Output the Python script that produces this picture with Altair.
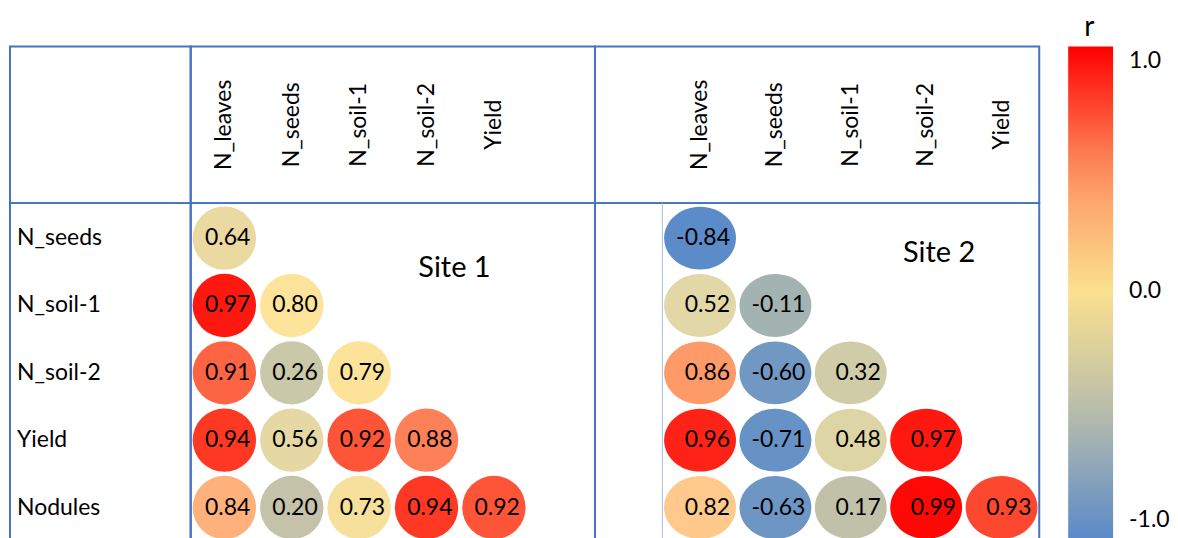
import altair as alt
import pandas as pd

# ---------------- data ----------------
cols = ["N_leaves", "N_seeds", "N_soil-1", "N_soil-2", "Yield"]
rows = ["N_seeds", "N_soil-1", "N_soil-2", "Yield", "Nodules"]

site1 = [
    [0.64],
    [0.97, 0.80],
    [0.91, 0.26, 0.79],
    [0.94, 0.56, 0.92, 0.88],
    [0.84, 0.20, 0.73, 0.94, 0.92],
]
site2 = [
    [-0.84],
    [0.52, -0.11],
    [0.86, -0.60, 0.32],
    [0.96, -0.71, 0.48, 0.97],
    [0.82, -0.63, 0.17, 0.99, 0.93],
]
site_names = ["Site 1", "Site 2"]
legend_values = [-1.0, 0.0, 1.0]


def long(vals):
    recs = []
    for i, rname in enumerate(rows):
        for j, v in enumerate(vals[i]):
            recs.append({"row": rname, "col": cols[j], "r": v, "label": f"{v:.2f}"})
    return pd.DataFrame(recs)


# ---------------- styles ----------------
FONT = "Lato"
BORDER = "#4472C4"
W0, W1, W2 = 181, 405, 445
HH, HB = 157, 340

fill_scale = alt.Scale(
    domain=[-1, -0.84, -0.6, -0.11, 0.17, 0.32, 0.52, 0.64, 0.73, 0.80,
            0.82, 0.84, 0.86, 0.88, 0.91, 0.94, 0.97, 1.0],
    range=["#5083c9", "#5b8bc8", "#7198c3", "#a3b3b1", "#c1c1a9", "#cfcca7",
           "#e2d7a6", "#ead9a0", "#f6e09c", "#fee39a", "#fec98a", "#feb17b",
           "#fe9a68", "#fd8058", "#fd6444", "#ff3824", "#ff1810", "#ff0000"],
    interpolate="rgb",
)
# gradient bar runs a little past -1 and +1, as in the source picture
legend_scale = alt.Scale(
    domain=[-1.08, -0.5, 0, 0.5, 1.064],
    range=["#5a8ac9", "#bdbfa9", "#fbe08f", "#fd9562", "#ff0000"],
    interpolate="rgb",
)

xs1 = alt.Scale(type="band", domain=cols, paddingInner=0, paddingOuter=0.5, align=0)
xs2 = alt.Scale(type="band", domain=cols, paddingInner=0, paddingOuter=0.447, align=1)
ys = alt.Scale(type="band", domain=rows, paddingInner=0, paddingOuter=0.02, align=0.5)

ELLIPSE = ("M 1.143 0 C 1.143 0.5523 0.6313 1 0 1 C -0.6313 1 -1.143 0.5523 -1.143 0 "
           "C -1.143 -0.5523 -0.6313 -1 0 -1 C 0.6313 -1 1.143 -0.5523 1.143 0 Z")

# ---------------- header row ----------------
header0 = alt.Chart(pd.DataFrame({"t": ["-"]})).mark_text(opacity=0).encode(
    x=alt.value(5), y=alt.value(5), text="t:N"
).properties(width=W0, height=HH)


def header(xs, w):
    return alt.Chart(pd.DataFrame({"col": cols})).mark_text(
        angle=270, font=FONT, fontSize=23, color="black",
        baseline="middle", align="center"
    ).encode(
        x=alt.X("col:N", scale=xs, axis=None),
        y=alt.value(HH / 2),
        text="col:N",
    ).properties(width=w, height=HH)


# ---------------- body row ----------------
body0 = alt.Chart(pd.DataFrame({"row": rows})).mark_text(
    align="left", baseline="middle", font=FONT, fontSize=23, color="black"
).encode(
    x=alt.value(7),
    y=alt.Y("row:N", scale=ys, axis=None),
    text="row:N",
).properties(width=W0, height=HB)


def body(vals, xs, w, shape, size, dx, site, sdx, sdy, with_legend=False):
    df = long(vals)
    base = alt.Chart(df).encode(
        x=alt.X("col:N", scale=xs, axis=None),
        y=alt.Y("row:N", scale=ys, axis=None),
    )
    pts = base.mark_point(
        shape=shape, size=size, filled=True, opacity=1, strokeWidth=0
    ).encode(fill=alt.Fill("r:Q", scale=fill_scale, legend=None))
    txt = base.mark_text(
        align="right", baseline="middle", dx=dx, font=FONT, fontSize=23, color="black"
    ).encode(text="label:N")
    sdf = pd.DataFrame({"col": ["N_soil-2"], "row": ["N_seeds"], "site": [site]})
    stxt = alt.Chart(sdf).mark_text(
        align="center", baseline="middle", dx=sdx, dy=sdy,
        font=FONT, fontSize=29, color="black"
    ).encode(
        x=alt.X("col:N", scale=xs, axis=None),
        y=alt.Y("row:N", scale=ys, axis=None),
        text="site:N",
    )
    layers = [pts, txt, stxt]
    if with_legend:
        edge = alt.Chart(pd.DataFrame({"col": [cols[0]]})).mark_rule(
            color="#a9bfe6", strokeWidth=1
        ).encode(
            x=alt.X("col:N", scale=xs, axis=None, bandPosition=0),
            y=alt.value(0),
            y2=alt.value(HB),
        )
        leg = base.mark_point(size=0, strokeWidth=0, opacity=1).encode(
            color=alt.Color(
                "r:Q",
                scale=legend_scale,
                legend=alt.Legend(
                    title="\u200b\u00a0\u00a0\u200ar",
                    orient="none",
                    legendX=1060,
                    legendY=-32,
                    direction="vertical",
                    gradientLength=493,
                    gradientThickness=45,
                    gradientStrokeWidth=0,
                    gradientOpacity=1,
                    values=legend_values,
                    labelExpr="datum.value < 0 ? '-' + format(-datum.value, '.1f') : format(datum.value, '.1f')",
                    labelFont=FONT,
                    labelFontSize=23,
                    labelColor="black",
                    labelOffset=16,
                    labelOverlap=False,
                    titleFont=FONT,
                    titleFontSize=28,
                    titleColor="black",
                    titleFontWeight="normal",
                    titlePadding=4,
                ),
            )
        )
        layers = [edge] + layers + [leg]
    return alt.layer(*layers).properties(width=w, height=HB)


body1 = body(site1, xs1, W1, "circle", 63.5 ** 2, 26, site_names[0], 28, 30)
body2 = body(site2, xs2, W2, ELLIPSE, 63 ** 2, 30, site_names[1], 13, 15, with_legend=True)

chart = alt.concat(
    header0, header(xs1, W1), header(xs2, W2),
    body0, body1, body2,
    columns=3, spacing=0, bounds="flush",
).properties(
    padding={"left": 1, "top": 6, "right": 0, "bottom": 0}
).configure_view(
    stroke=BORDER, strokeWidth=2
)

chart.save("out.html", embed_options={"renderer": "svg", "actions": False})
